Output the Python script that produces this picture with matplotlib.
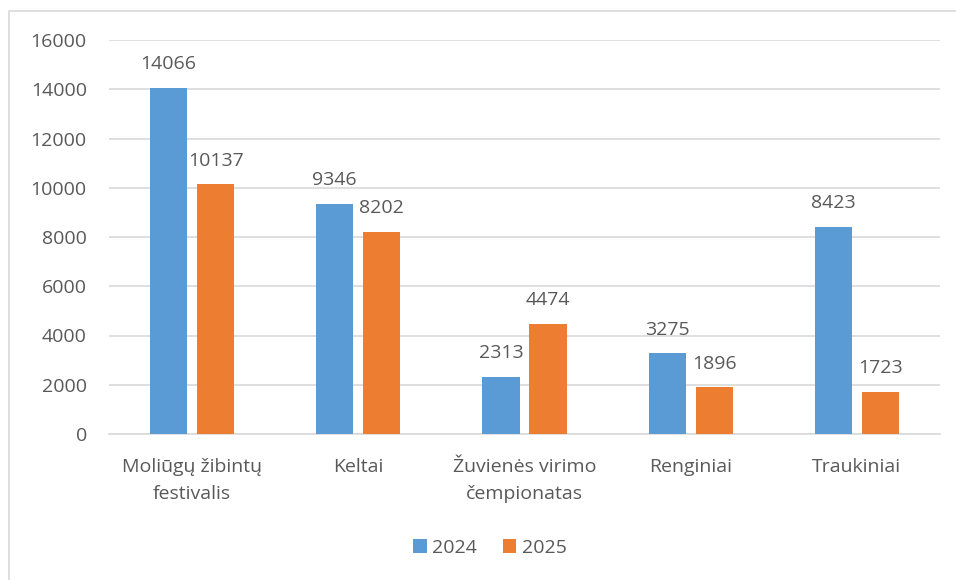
import matplotlib.pyplot as plt
import numpy as np
from matplotlib.lines import Line2D

categories = ["Moliūgų žibintų\nfestivalis", "Keltai", "Žuvienės virimo\nčempionatas",
              "Renginiai", "Traukiniai"]
years = ["2024", "2025"]
values_2024 = [14066, 9346, 2313, 3275, 8423]
values_2025 = [10137, 8202, 4474, 1896, 1723]
yticks = [0, 2000, 4000, 6000, 8000, 10000, 12000, 14000, 16000]

blue = "#5b9bd5"
orange = "#ed7d31"
text_color = "#595959"
grid_color = "#d9d9d9"
fs = 14

plt.rcParams['font.family'] = ['Open Sans', 'DejaVu Sans']

fig = plt.figure(figsize=(9.56, 5.8), dpi=100)
W, H = 956, 580
ax = fig.add_axes([109 / W, 1 - 434 / H, (940 - 109) / W, (434 - 40) / H])

x = np.arange(len(categories))
bw = 0.223
gap = 0.06
b1 = ax.bar(x - (bw + gap) / 2, values_2024, bw, color=blue, label=years[0], zorder=3)
b2 = ax.bar(x + (bw + gap) / 2, values_2025, bw, color=orange, label=years[1], zorder=3)

for bars in (b1, b2):
    for rect in bars:
        h = rect.get_height()
        ax.annotate(str(h), (rect.get_x() + rect.get_width() / 2, h),
                    xytext=(0, 10.5), textcoords="offset points",
                    ha="center", va="bottom", fontsize=fs, color=text_color)

ax.set_xlim(-0.5, len(categories) - 0.5)
ax.set_ylim(0, 16000)
ax.set_yticks(yticks)
ax.set_yticklabels([str(t) for t in yticks])
ax.set_xticks(x)
ax.set_xticklabels(categories, linespacing=1.65)
ax.tick_params(axis="y", length=0, pad=16, labelsize=fs, labelcolor=text_color)
ax.tick_params(axis="x", length=0, pad=17, labelsize=fs, labelcolor=text_color)

ax.grid(axis="y", color=grid_color, linewidth=1.2, zorder=0)
for side in ("left", "right", "top"):
    ax.spines[side].set_visible(False)
ax.spines["bottom"].set_color(grid_color)
ax.spines["bottom"].set_linewidth(1.2)

leg = fig.legend(handles=[b1, b2], labels=years, loc="center", bbox_to_anchor=(490 / W, 1 - 548 / H),
                 ncol=2, frameon=False, fontsize=fs, handlelength=0.7, handleheight=0.7,
                 handletextpad=0.3, columnspacing=1.3)
for t in leg.get_texts():
    t.set_color(text_color)

# outer chart border (left and top edges visible in the crop)
fig.add_artist(Line2D([8.5 / W, 8.5 / W, 1], [0, 1 - 11 / H, 1 - 11 / H],
                      transform=fig.transFigure, color=grid_color, linewidth=1.2))

fig.savefig("out.png", dpi=100)
